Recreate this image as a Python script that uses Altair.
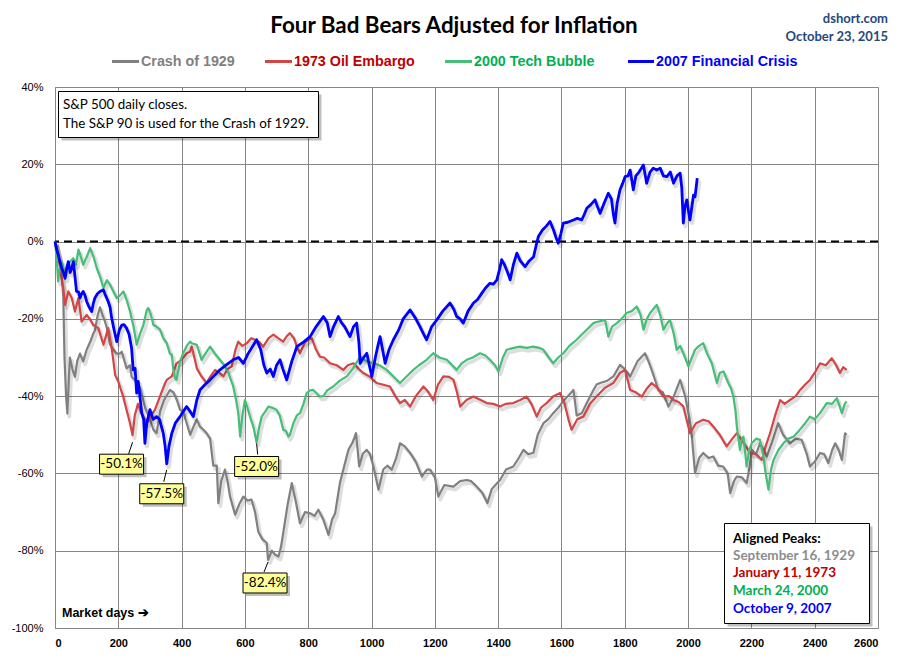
import altair as alt
import pandas as pd

SERIES = ["Crash of 1929", "1973 Oil Embargo", "2000 Tech Bubble", "2007 Financial Crisis"]
LINE_COLORS = ["#808080", "#D24646", "#46BE78", "#0000FF"]
TEXT_COLORS = ["#808080", "#C00000", "#00B050", "#0000FF"]
PEAK_DATES = ["September 16, 1929", "January 11, 1973", "March 24, 2000", "October 9, 2007"]
PEAK_COLORS = ["#8C8C8C", "#C00000", "#00B050", "#0000FF"]

X_TICKS = list(range(0, 2601, 200))
Y_TICKS = list(range(-100, 41, 20))

# (market day, % change from aligned peak)
crash_1929 = [
    (0, 0), (10, -3), (20, -8), (26, -14), (30, -30), (35, -40), (39, -44.5), (44, -35), (47, -30),
    (55, -33), (63, -35), (70, -31), (79, -29), (89, -31), (100, -28), (111, -26), (120, -24),
    (126, -23), (135, -19), (142, -17), (150, -19), (158, -20.7), (166, -23), (174, -26.7),
    (185, -28), (195, -29), (205, -29), (211, -28.5), (226, -32.8), (237, -32), (242, -35),
    (255, -36), (269, -38), (285, -43), (300, -46), (311, -48.7), (321, -49.6), (332, -44),
    (345, -41), (363, -38.4), (374, -39), (385, -41), (395, -43.5), (405, -44), (416, -47),
    (427, -50), (437, -48), (448, -46), (458, -47.9), (469, -48.7), (479, -49.6), (490, -51),
    (500, -58), (511, -58), (516, -67.7), (525, -62), (537, -59), (545, -62), (553, -66),
    (569, -70.7), (582, -68), (595, -66), (608, -67), (621, -66.8), (632, -70), (642, -75),
    (655, -77), (669, -78), (673, -82.4), (685, -80), (695, -81), (706, -81.5), (714, -79),
    (721, -75.4), (735, -68), (748, -62.5), (760, -67), (774, -72.9), (790, -70), (806, -70.3),
    (820, -71), (832, -69.4), (848, -72), (864, -75.9), (875, -72), (885, -70.3), (900, -62.5),
    (914, -58), (927, -53.9), (940, -52), (951, -49.6), (961, -58.2), (972, -55), (985, -53.9),
    (995, -55), (1006, -58.2), (1022, -64.2), (1037, -59), (1050, -58), (1064, -59), (1078, -56),
    (1090, -52.2), (1105, -53), (1122, -54.7), (1140, -57), (1159, -60.8), (1175, -59),
    (1185, -59), (1200, -61), (1211, -66), (1230, -63), (1259, -63.4), (1280, -62), (1301, -61.7),
    (1315, -62), (1332, -63.4), (1350, -65), (1366, -67.7), (1380, -64), (1406, -61.7),
    (1425, -59), (1448, -58.2), (1465, -56), (1480, -53.9), (1495, -55), (1511, -54.7),
    (1525, -50), (1543, -47), (1558, -46), (1574, -44.4), (1590, -43), (1601, -41.8), (1620, -40),
    (1638, -38.4), (1648, -45), (1664, -44.4), (1680, -41.8), (1701, -38.4), (1711, -37),
    (1722, -36.6), (1745, -36), (1764, -34.9), (1785, -31.9), (1800, -33), (1817, -34.9),
    (1840, -31), (1864, -28.9), (1875, -31), (1885, -33.2), (1906, -38.4), (1920, -39),
    (1938, -42.7), (1955, -40), (1975, -35.8), (1991, -40.1), (2005, -46), (2012, -50.5),
    (2022, -59.9), (2035, -56), (2048, -54.7), (2065, -56), (2080, -55.6), (2095, -58),
    (2111, -58.2), (2125, -60), (2133, -65.1), (2145, -62), (2154, -60.8), (2170, -61),
    (2185, -62.5), (2195, -58), (2201, -53.9), (2215, -55), (2227, -52.2), (2249, -55.6),
    (2265, -52), (2285, -47), (2300, -50), (2322, -52.2), (2340, -51), (2359, -51.3), (2375, -55),
    (2385, -58.2), (2400, -57), (2417, -54.7), (2430, -55), (2443, -57.3), (2455, -54),
    (2465, -52.2), (2476, -54), (2486, -56.5), (2496, -49.6), (2501, -50),
]

oil_1973 = [
    (0, 0), (8, -3), (15, -6), (21, -9.5), (26, -12), (32, -16.4), (42, -12.9), (53, -14.6),
    (63, -18.1), (74, -14.6), (84, -20.7), (100, -19), (110, -20), (121, -21.6), (137, -22.4),
    (153, -26.7), (168, -22.4), (179, -27.6), (184, -30.6), (190, -34.5), (200, -36.2),
    (205, -37.5), (215, -40), (226, -43.5), (237, -47), (245, -50.1), (252, -45), (262, -42),
    (270, -44), (279, -45.3), (290, -47), (300, -45.5), (316, -43.5), (332, -40), (348, -36.6),
    (353, -35.8), (369, -34.9), (384, -31.5), (400, -30.6), (416, -28.9), (427, -28.5),
    (432, -27.2), (442, -30.6), (448, -32.8), (463, -34.9), (479, -36.6), (490, -35), (506, -33.2),
    (520, -34), (532, -34.9), (545, -33), (558, -32.3), (570, -28), (579, -25.9), (592, -27),
    (606, -26.3), (620, -25), (632, -25.4), (645, -26), (658, -27.2), (675, -25), (690, -24.1),
    (705, -25), (721, -25.9), (732, -24.5), (742, -23.7), (755, -25), (764, -27.2), (774, -28.9),
    (790, -26), (800, -25.5), (811, -25), (825, -28), (837, -29.8), (850, -30), (869, -31.5),
    (890, -32), (911, -33.2), (925, -32), (943, -31.5), (960, -33), (974, -34), (995, -35),
    (1016, -36.6), (1035, -37), (1058, -37.5), (1075, -40), (1090, -41.8), (1105, -41),
    (1122, -42.7), (1140, -40), (1164, -37.5), (1180, -39), (1195, -41), (1210, -37),
    (1227, -34.9), (1245, -35), (1259, -35.8), (1270, -39), (1280, -42.7), (1300, -41),
    (1322, -40.1), (1345, -41), (1364, -41.8), (1385, -42), (1406, -42.7), (1425, -42),
    (1448, -41.8), (1470, -41), (1490, -40.1), (1505, -42), (1522, -45.3), (1535, -43),
    (1553, -41.8), (1575, -40), (1596, -39.2), (1610, -42), (1622, -46), (1632, -48.7),
    (1650, -46), (1669, -45.3), (1690, -42), (1711, -40.1), (1735, -38), (1764, -36.6),
    (1785, -34), (1801, -33.2), (1817, -38.4), (1835, -39), (1854, -40.1), (1870, -38),
    (1885, -36.6), (1905, -38), (1922, -40.1), (1940, -40), (1954, -41), (1970, -41.5),
    (1985, -42.7), (1995, -46), (2006, -49.6), (2025, -47), (2048, -46.1), (2065, -46.5),
    (2080, -47.9), (2100, -50), (2122, -53), (2140, -51), (2154, -49.6), (2175, -52),
    (2196, -54.7), (2215, -55), (2233, -56.5), (2245, -53), (2259, -49.6), (2275, -45),
    (2291, -41), (2305, -42), (2322, -41), (2340, -40), (2354, -38.4), (2370, -37), (2385, -35.8),
    (2400, -34), (2417, -31.5), (2435, -32), (2454, -30.2), (2468, -32), (2480, -34),
    (2490, -32.5), (2501, -33.2),
]

tech_2000 = [
    (0, 0), (5, -4), (10, -10.3), (15, -7), (21, -5.2), (30, -8), (40, -6), (50, -5), (58, -4.3),
    (66, -6), (74, -2.1), (82, -4), (89, -6), (100, -4), (111, -1.7), (122, -4), (132, -6.9),
    (142, -9), (153, -12), (164, -10), (174, -11.2), (185, -13), (195, -14.6), (205, -14),
    (216, -12.9), (226, -15), (237, -18.1), (248, -22), (258, -26.7), (268, -24), (279, -21.6),
    (290, -17.7), (295, -17.2), (303, -19), (311, -21.6), (321, -22), (332, -22.8), (342, -25),
    (353, -26.3), (363, -29), (369, -29.3), (374, -33.2), (379, -35.3), (384, -35.8), (395, -31),
    (405, -28.9), (416, -27), (427, -25.9), (432, -26.3), (448, -26.7), (463, -30.6), (475, -29),
    (490, -27.2), (505, -29), (521, -30.6), (535, -32), (548, -34), (563, -37.5), (572, -41),
    (579, -44.4), (585, -50.5), (592, -45), (600, -41), (608, -43), (616, -45.3), (627, -48),
    (637, -52.0), (645, -48), (653, -45.3), (664, -44), (674, -42.7), (687, -43), (700, -43.5),
    (710, -45), (721, -48.7), (730, -49), (737, -50.5), (742, -50), (753, -47), (764, -45),
    (774, -44.4), (785, -42), (795, -39.2), (806, -38.5), (816, -38.4), (837, -40.1), (848, -40),
    (860, -38.5), (879, -37.5), (900, -36), (922, -34.9), (940, -33), (964, -29.8), (985, -31),
    (1006, -31.5), (1025, -32), (1048, -33.2), (1070, -35), (1090, -36.6), (1110, -35),
    (1132, -33.2), (1150, -32), (1174, -30.6), (1195, -28.9), (1215, -30), (1238, -30.6),
    (1255, -32), (1269, -33.2), (1285, -31.5), (1301, -30.6), (1320, -30), (1343, -28.9),
    (1360, -29.5), (1374, -30.6), (1390, -32), (1401, -33.6), (1415, -30), (1427, -28),
    (1450, -27.5), (1469, -27.2), (1490, -27.5), (1511, -27.2), (1530, -27.5), (1543, -28),
    (1560, -30), (1574, -31.5), (1590, -30), (1606, -28.9), (1625, -27), (1648, -25.4),
    (1665, -24), (1680, -22.8), (1701, -21.1), (1717, -20.7), (1738, -20.3), (1748, -24.6),
    (1760, -22), (1775, -21.1), (1790, -20), (1806, -18.5), (1822, -18), (1838, -16.8),
    (1850, -19), (1859, -22.8), (1870, -20), (1880, -18.5), (1901, -16.4), (1912, -19),
    (1922, -22.8), (1935, -21), (1943, -20.3), (1955, -24), (1964, -28), (1975, -27),
    (1985, -28.9), (2001, -32.3), (2012, -30), (2022, -28), (2035, -27), (2048, -26.3),
    (2060, -29), (2075, -31.5), (2091, -36.6), (2100, -34), (2112, -33.6), (2127, -36.6),
    (2136, -38), (2143, -40.1), (2150, -44), (2154, -47.9), (2164, -53.9), (2170, -51),
    (2175, -50.5), (2185, -58.2), (2193, -54), (2201, -52.2), (2215, -51), (2227, -51.3),
    (2238, -55.6), (2245, -60), (2254, -64.2), (2262, -59), (2270, -56.5), (2285, -54),
    (2301, -52.2), (2317, -51), (2333, -50.5), (2350, -49), (2370, -47), (2385, -45.3),
    (2400, -46), (2417, -44.4), (2438, -41.8), (2455, -42), (2470, -40.5), (2486, -44.4),
    (2495, -42), (2501, -41.4),
]

crisis_2007 = [
    (0, 0), (5, -2), (10, -3.4), (15, -5), (21, -6.9), (27, -8), (32, -9.5), (37, -7), (42, -5.2),
    (48, -8), (53, -7), (58, -5.2), (63, -9), (68, -12.9), (74, -13), (79, -14.6), (84, -13.5),
    (89, -12.9), (95, -14), (100, -15.5), (108, -17), (116, -18.1), (121, -16), (126, -14.6),
    (134, -13.5), (142, -12.9), (153, -12.5), (160, -14), (168, -15.5), (174, -17), (179, -19.8),
    (187, -23), (195, -25.9), (203, -23), (211, -21.6), (218, -21.5), (226, -22.4), (234, -24),
    (242, -27.6), (247, -33.2), (253, -32.8), (258, -39.2), (263, -36.2), (274, -44.4),
    (280, -46), (284, -52.2), (290, -47), (300, -43.5), (310, -46), (321, -45.3), (330, -46),
    (342, -49.6), (348, -53), (353, -57.5), (360, -53), (369, -49.6), (380, -47), (395, -45.3),
    (405, -44), (416, -42.7), (427, -44), (437, -45.3), (448, -41), (458, -38.4), (474, -37),
    (490, -35.8), (505, -34.5), (521, -33.2), (540, -32), (563, -30.6), (580, -30), (595, -31.5),
    (610, -29), (625, -27), (637, -25.4), (650, -28), (660, -32), (669, -34), (680, -33),
    (690, -34.9), (700, -32), (711, -30.6), (720, -33), (732, -35.8), (748, -31), (764, -27.2),
    (785, -26), (806, -24.6), (825, -22), (848, -19.4), (860, -21), (869, -24.6), (880, -22),
    (895, -19.4), (905, -21), (915, -22), (932, -24.6), (943, -22), (953, -21.1), (960, -26),
    (964, -31.5), (975, -30), (985, -28.9), (993, -32), (1001, -34.9), (1012, -30), (1020, -27),
    (1027, -24.6), (1035, -28), (1043, -31.5), (1055, -28), (1069, -25.4), (1085, -23),
    (1100, -20), (1122, -17.7), (1140, -20), (1153, -22), (1165, -24), (1174, -25.4), (1190, -22),
    (1206, -20.3), (1225, -18), (1248, -15.9), (1260, -17.5), (1269, -19.4), (1280, -20),
    (1290, -21.1), (1305, -18), (1322, -15.9), (1335, -15), (1348, -13.4), (1360, -12),
    (1374, -10.8), (1385, -11), (1396, -9.9), (1405, -7), (1411, -4.7), (1420, -6), (1430, -8),
    (1438, -9.9), (1448, -6), (1459, -3), (1470, -5), (1485, -6.5), (1498, -5), (1512, -3.9),
    (1520, -1), (1527, 1.3), (1540, 3), (1552, 4), (1564, 5.2), (1575, 3), (1583, 1), (1590, -0.4),
    (1598, 2), (1606, 4.8), (1620, 5), (1638, 5.6), (1650, 6), (1664, 5.6), (1672, 7), (1680, 8.6),
    (1692, 9.5), (1706, 10.8), (1714, 9), (1722, 7.3), (1735, 10), (1748, 12.5), (1758, 11),
    (1764, 7), (1769, 4.8), (1776, 10), (1785, 13.4), (1793, 15), (1801, 16.8), (1810, 17),
    (1817, 18.5), (1822, 16), (1827, 13.4), (1835, 17), (1845, 18), (1859, 19.8), (1865, 17),
    (1869, 15.1), (1880, 18), (1890, 19), (1901, 18.5), (1912, 19), (1922, 17), (1933, 16.8),
    (1944, 18), (1954, 15.1), (1965, 17), (1975, 17.7), (1980, 14), (1985, 4.8), (1990, 9),
    (1996, 10.8), (2001, 8), (2006, 5.6), (2012, 9), (2017, 12), (2022, 11.6), (2029, 16.4),
]

# Trough annotations
ann_series = ["1973 Oil Embargo", "2007 Financial Crisis", "2000 Tech Bubble", "Crash of 1929"]
ann_day = [245, 353, 637, 673]
ann_pct = [-50.1, -57.5, -52.0, -82.4]
ann_label = ["-50.1%", "-57.5%", "-52.0%", "-82.4%"]

rows = []
for name, pts in zip(SERIES, [crash_1929, oil_1973, tech_2000, crisis_2007]):
    for d, v in pts:
        rows.append({"series": name, "day": d, "pct": v})
df = pd.DataFrame(rows)
ann_df = pd.DataFrame({"series": ann_series, "day": ann_day, "pct": ann_pct, "label": ann_label})

W, H = 823, 541
FONT_UI = "Liberation Sans"
FONT_BODY = "Lato"

x_enc = alt.X("day:Q", scale=alt.Scale(domain=[0, 2600], nice=False, zero=False),
              axis=alt.Axis(values=X_TICKS, title=None, grid=True, ticks=False, format="d",
                            labelFontWeight="bold", labelPadding=9, labelFontSize=11,
                            labelFont=FONT_UI, labelColor="black",
                            gridColor="#868686", domainColor="#868686"))
y_enc = alt.Y("pct:Q", scale=alt.Scale(domain=[-100, 40], nice=False, zero=False),
              axis=alt.Axis(values=Y_TICKS, title=None, grid=True, ticks=False,
                            labelExpr="datum.value + '%'", labelPadding=12, labelFontSize=11,
                            labelFont=FONT_UI, labelColor="black",
                            gridColor="#868686", domainColor="#868686"))

layers = []
zero = alt.Chart(pd.DataFrame({"pct": [0]})).mark_rule(
    color="black", strokeWidth=2, strokeDash=[8, 5]).encode(y=y_enc)
layers.append(zero)

for name, col in zip(SERIES, LINE_COLORS):
    sw = 2.8 if name.startswith("2007") else 2.2
    base = alt.Chart(df).transform_filter(alt.datum.series == name)
    layers.append(base.mark_line(color="#000000", opacity=0.13, strokeWidth=sw + 1.5,
                                 xOffset=2, yOffset=3, strokeJoin="round").encode(x=x_enc, y=y_enc))
    layers.append(base.mark_line(color=col, strokeWidth=sw, strokeJoin="round").encode(x=x_enc, y=y_enc))

# trough callouts: (box dx, box dy, leader start dy, leader end dx, leader end dy)
CALLOUT = [(-11, 29, 7, -4, 19), (-5, 30, 6, -3, 18), (0, 24, 1, 1, 12), (-3, 23, 2, -4, 12)]
for i, (bdx, bdy, l0, ldx, l1) in enumerate(CALLOUT):
    a = alt.Chart(ann_df).transform_filter(alt.datum.label == ann_label[i])
    enc = dict(x=alt.X("day:Q", scale=alt.Scale(domain=[0, 2600], nice=False)), x2="day:Q",
               y=alt.Y("pct:Q", scale=alt.Scale(domain=[-100, 40], nice=False)), y2="pct:Q")
    layers.append(a.mark_rule(color="black", strokeWidth=1, yOffset=l0, y2Offset=l1,
                              xOffset=0, x2Offset=ldx).encode(**enc))
    layers.append(a.mark_rect(fill="#000000", opacity=0.25, xOffset=bdx - 22 + 3, x2Offset=bdx + 22 + 3,
                              yOffset=bdy - 10 + 3, y2Offset=bdy + 10 + 3).encode(**enc))
    layers.append(a.mark_rect(fill="#FFFF99", stroke="black", strokeWidth=1,
                              xOffset=bdx - 22, x2Offset=bdx + 22,
                              yOffset=bdy - 10, y2Offset=bdy + 10).encode(**enc))
    layers.append(a.mark_text(font=FONT_BODY, fontSize=13.5, color="black", dx=bdx, dy=bdy,
                              align="center", baseline="middle").encode(
        x=enc["x"], y=enc["y"], text="label:N"))


def txt(s, x, y, **kw):
    return alt.Chart(pd.DataFrame({"t": [s]})).mark_text(**kw).encode(
        text="t:N", x=alt.value(x), y=alt.value(y))


def box(x0, x1, y0, y1):
    one = pd.DataFrame({"a": [0]})
    sh = alt.Chart(one).mark_rect(fill="#000000", opacity=0.25).encode(
        x=alt.value(x0 + 3), x2=alt.value(x1 + 3), y=alt.value(y0 + 3), y2=alt.value(y1 + 3))
    bx = alt.Chart(one).mark_rect(fill="white", stroke="black", strokeWidth=1).encode(
        x=alt.value(x0), x2=alt.value(x1), y=alt.value(y0), y2=alt.value(y1))
    return [sh, bx]


# titles
layers.append(txt("Four Bad Bears Adjusted for Inflation", 399, -61, font=FONT_BODY, fontSize=22.4,
                  fontWeight="bold", color="black", align="center", baseline="middle"))
layers.append(txt("dshort.com", 833, -68, font=FONT_BODY, fontSize=13, fontWeight="bold",
                  color="#1F497D", align="right", baseline="middle"))
layers.append(txt("October 23, 2015", 833, -50, font=FONT_BODY, fontSize=13, fontWeight="bold",
                  color="#1F497D", align="right", baseline="middle"))

# legend
LEG_LINE = [(57, 84), (210, 237), (390, 417), (573, 599)]
for (lx0, lx1), name, lc, tc in zip(LEG_LINE, SERIES, LINE_COLORS, TEXT_COLORS):
    layers.append(alt.Chart(pd.DataFrame({"a": [0]})).mark_rule(color=lc, strokeWidth=3).encode(
        x=alt.value(lx0), x2=alt.value(lx1), y=alt.value(-25.5)))
    layers.append(txt(name, lx1 + 2, -25.5, font=FONT_UI, fontSize=14.3, fontWeight="bold",
                      color=tc, align="left", baseline="middle"))

# note box
layers += box(3.5, 263.5, 4.5, 50.5)
layers.append(txt("S&P 500 daily closes.", 8, 18, font=FONT_BODY, fontSize=13.4, color="black",
                  align="left", baseline="middle"))
layers.append(txt("The S&P 90 is used for the Crash of 1929.", 8, 36.5, font=FONT_BODY, fontSize=13.4,
                  color="black", align="left", baseline="middle"))

# aligned peaks box
layers += box(669.5, 814.5, 436.5, 536.5)
layers.append(txt("Aligned Peaks:", 678, 451.5, font=FONT_BODY, fontSize=13.5, fontWeight="bold",
                  color="black", align="left", baseline="middle"))
for k, (d, c) in enumerate(zip(PEAK_DATES, PEAK_COLORS)):
    layers.append(txt(d, 678, 468.5 + 17.8 * k, font=FONT_BODY, fontSize=13.5, fontWeight="bold",
                      color=c, align="left", baseline="middle"))

layers.append(txt("Market days \u2794", 7, 526, font=FONT_UI, fontSize=12.5, fontWeight="bold",
                  color="black", align="left", baseline="middle"))

chart = alt.layer(*layers).properties(
    width=W, height=H,
    padding={"left": 47, "top": 79, "right": 20, "bottom": 24},
    autosize=alt.AutoSizeParams(type="none"),
).configure_view(stroke="#868686", strokeWidth=1).configure(background="white")

chart.save("out.html", embed_options={"renderer": "svg", "actions": False})
